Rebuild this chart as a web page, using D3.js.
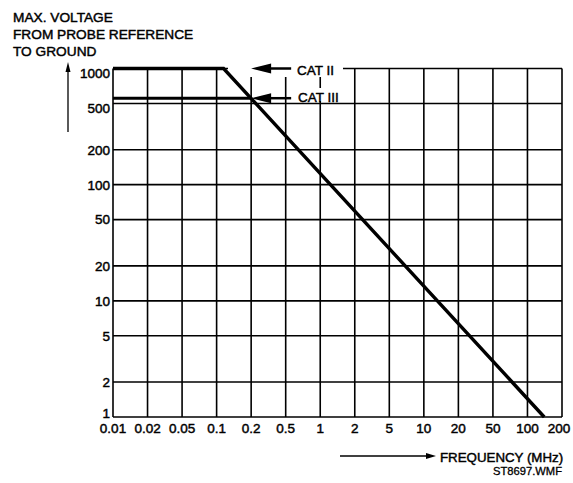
<!DOCTYPE html>
<html>
<head>
<meta charset="utf-8">
<script src="https://cdn.jsdelivr.net/npm/d3@7"></script>
<style>
  body { margin: 0; background: #fff; }
  text { font-family: "Liberation Sans", Arial, sans-serif; fill: #000; }
</style>
</head>
<body>
<script>
var width = 573, height = 483;

// tick values (MHz / volts)
var freqTicks = [0.01, 0.02, 0.05, 0.1, 0.2, 0.5, 1, 2, 5, 10, 20, 50, 100, 200];
var voltTicks = [1, 2, 5, 10, 20, 50, 100, 200, 500, 1000];
var freqLabels = ["0.01", "0.02", "0.05", "0.1", "0.2", "0.5", "1", "2", "5", "10", "20", "50", "100", "200"];

// derating curves
var catII = [[0.01, 1000], [0.115, 1000], [140, 1]];
var catIII = [[0.01, 555], [0.2, 555]];

var titleLines = ["MAX. VOLTAGE", "FROM PROBE REFERENCE", "TO GROUND"];

// note: "top" is reserved on window, so use plot* names
var plotLeft = 113, plotRight = 562, plotTop = 68.5, plotBottom = 417;

var svg = d3.select("body").append("svg")
    .attr("width", width)
    .attr("height", height);

svg.append("rect").attr("width", width).attr("height", height).attr("fill", "#fff");

// x: every tick is evenly spaced, log between ticks
var step = (plotRight - plotLeft) / (freqTicks.length - 1);
var x = d3.scaleLog()
    .domain(freqTicks)
    .range(freqTicks.map(function(d, i) { return plotLeft + i * step; }));

var y = d3.scaleLog()
    .domain([1, 1000])
    .range([plotBottom, plotTop]);

// grid
var grid = svg.append("g").attr("stroke", "#000").attr("stroke-width", 1.6);

grid.selectAll("line.v").data(freqTicks).enter().append("line")
    .attr("x1", function(d) { return x(d); })
    .attr("x2", function(d) { return x(d); })
    .attr("y1", plotTop).attr("y2", plotBottom);

grid.selectAll("line.h").data(voltTicks).enter().append("line")
    .attr("x1", plotLeft).attr("x2", plotRight)
    .attr("y1", function(d) { return y(d); })
    .attr("y2", function(d) { return y(d); });

// y tick labels (top two and bottom one nudged like the original)
var yNudge = { 1000: 5, 500: 5, 1: -4 };
svg.append("g").selectAll("text").data(voltTicks).enter().append("text")
    .attr("x", plotLeft - 3)
    .attr("y", function(d) { return y(d) + (yNudge[d] || 0); })
    .attr("dy", "0.36em")
    .attr("text-anchor", "end")
    .attr("font-size", "13.5px")
    .attr("stroke", "#000").attr("stroke-width", 0.45)
    .text(function(d) { return d; });

// x tick labels
svg.append("g").selectAll("text").data(freqTicks).enter().append("text")
    .attr("x", function(d, i) { return x(d) - (i == freqTicks.length - 1 ? 3 : 0); })
    .attr("y", 433)
    .attr("text-anchor", "middle")
    .attr("font-size", "13.5px")
    .attr("stroke", "#000").attr("stroke-width", 0.45)
    .text(function(d, i) { return freqLabels[i]; });

// white boxes behind the annotations
svg.append("rect").attr("x", 228).attr("y", 56).attr("width", 115).attr("height", 21).attr("fill", "#fff");
svg.append("rect").attr("x", 292).attr("y", 88).attr("width", 54).attr("height", 13).attr("fill", "#fff");

// curves
var line = d3.line()
    .x(function(d) { return x(d[0]); })
    .y(function(d) { return y(d[1]); });

svg.append("path").datum(catII)
    .attr("d", line)
    .attr("fill", "none").attr("stroke", "#000").attr("stroke-width", 3.4);

svg.append("path").datum(catIII)
    .attr("d", line)
    .attr("fill", "none").attr("stroke", "#000").attr("stroke-width", 3);

// annotation arrows
function leftArrow(tipX, tipY, len, head, hw) {
  svg.append("line")
      .attr("x1", tipX + head - 2).attr("x2", tipX + len)
      .attr("y1", tipY).attr("y2", tipY)
      .attr("stroke", "#000").attr("stroke-width", 2.5);
  svg.append("path")
      .attr("d", "M" + tipX + "," + tipY + "L" + (tipX + head) + "," + (tipY - hw) +
                 "L" + (tipX + head) + "," + (tipY + hw) + "Z")
      .attr("fill", "#000");
}

leftArrow(x(0.2), y(1000), 40, 20, 5);
leftArrow(x(0.2), y(555), 40, 20, 5);

svg.append("text").attr("x", 297).attr("y", 74.5)
    .attr("font-size", "13.5px").attr("stroke", "#000").attr("stroke-width", 0.45)
    .text("CAT II");
svg.append("text").attr("x", 298).attr("y", 102)
    .attr("font-size", "13.5px").attr("stroke", "#000").attr("stroke-width", 0.45)
    .text("CAT III");

// title
svg.append("g").selectAll("text").data(titleLines).enter().append("text")
    .attr("x", 13)
    .attr("y", function(d, i) { return 22 + i * 17; })
    .attr("font-size", "13.7px")
    .attr("stroke", "#000").attr("stroke-width", 0.45)
    .text(function(d) { return d; });

// vertical axis arrow
svg.append("line").attr("x1", 68).attr("x2", 68).attr("y1", 132).attr("y2", 70)
    .attr("stroke", "#000").attr("stroke-width", 1.3);
svg.append("path").attr("d", "M68,62L65.5,72L70.5,72Z").attr("fill", "#000");

// frequency arrow and caption
svg.append("line").attr("x1", 340).attr("x2", 428).attr("y1", 456).attr("y2", 456)
    .attr("stroke", "#000").attr("stroke-width", 1.3);
svg.append("path").attr("d", "M436,456L426,453L426,459Z").attr("fill", "#000");

svg.append("text").attr("x", 440).attr("y", 462)
    .attr("font-size", "13.3px").attr("stroke", "#000").attr("stroke-width", 0.45)
    .text("FREQUENCY (MHz)");

svg.append("text").attr("x", 562).attr("y", 474.5)
    .attr("text-anchor", "end")
    .attr("font-size", "11.2px").attr("stroke", "#000").attr("stroke-width", 0.3)
    .text("ST8697.WMF");
</script>
</body>
</html>
